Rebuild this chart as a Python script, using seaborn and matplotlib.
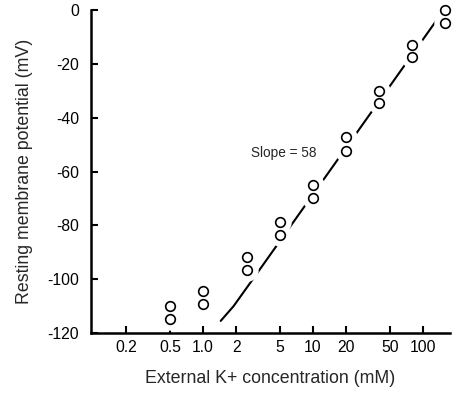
import matplotlib
matplotlib.use("Agg")
import matplotlib.pyplot as plt
import seaborn as sns
import pandas as pd

# ---- data ----
conc = [0.5, 0.5, 1.0, 1.0, 2.5, 2.5, 5, 5, 10, 10, 20, 20, 40, 40, 80, 80, 160, 160]
potential = [-110, -114.7, -104.5, -109.4, -91.7, -96.5, -78.7, -83.5, -65, -70,
             -47.3, -52.2, -30.1, -34.6, -12.9, -17.5, 0, -4.9]
fit_conc = [1.45, 1.9, 2.9, 140]
fit_potential = [-115.5, -110.0, -99.5, -2.5]
xticks = [0.2, 0.5, 1, 2, 5, 10, 20, 50, 100]
xticklabels = ["0.2", "0.5", "1.0", "2", "5", "10", "20", "50", "100"]
yticks = [-120, -100, -80, -60, -40, -20, 0]
slope_label = "Slope = 58"

pts = pd.DataFrame({"conc": conc, "potential": potential})
fit = pd.DataFrame({"conc": fit_conc, "potential": fit_potential})

sns.set_style("ticks")
plt.rcParams["font.family"] = ["Liberation Sans", "DejaVu Sans"]

fig = plt.figure(figsize=(4.68, 3.96), dpi=100)
ax = fig.add_axes([91 / 468, 1 - 333 / 396, (450 - 91) / 468, (333 - 10) / 396])

sns.lineplot(data=fit, x="conc", y="potential", ax=ax, color="black",
             linewidth=1.5, sort=False, estimator=None, zorder=2)
# white halos that break the fit line around each pair of points
sns.scatterplot(data=pts, x="conc", y="potential", ax=ax, s=260,
                marker="o", zorder=3, clip_on=False)
ax.collections[-1].set_facecolor("white")
ax.collections[-1].set_edgecolor("white")
ax.collections[-1].set_linewidth(0)
sns.scatterplot(data=pts, x="conc", y="potential", ax=ax, s=48, marker="o",
                zorder=4, clip_on=False)
ax.collections[-1].set_facecolor("white")
ax.collections[-1].set_edgecolor("black")
ax.collections[-1].set_linewidth(1.2)

ax.set_xscale("log")
ax.set_xlim(0.096, 176)
ax.set_ylim(-120, 0)
ax.set_xticks(xticks)
ax.set_xticklabels(xticklabels)
ax.minorticks_off()
ax.set_yticks(yticks)
ax.set_yticklabels([str(v) for v in yticks])

ax.tick_params(direction="in", length=5, width=1.5, labelsize=11.3, colors="black")
ax.tick_params(axis="y", pad=8.5)
ax.tick_params(axis="x", pad=5)
for s in ["top", "right"]:
    ax.spines[s].set_visible(False)
for s in ["left", "bottom"]:
    ax.spines[s].set_linewidth(1.8)
    ax.spines[s].set_color("black")

ax.set_xlabel("External K+ concentration (mM)", fontsize=12.8, labelpad=11)
ax.set_ylabel("Resting membrane potential (mV)", fontsize=12.8, labelpad=10)

ax.text(2.71, -53, slope_label, fontsize=9.8, ha="left", va="center")

fig.savefig("out.png", dpi=100, facecolor="white")
